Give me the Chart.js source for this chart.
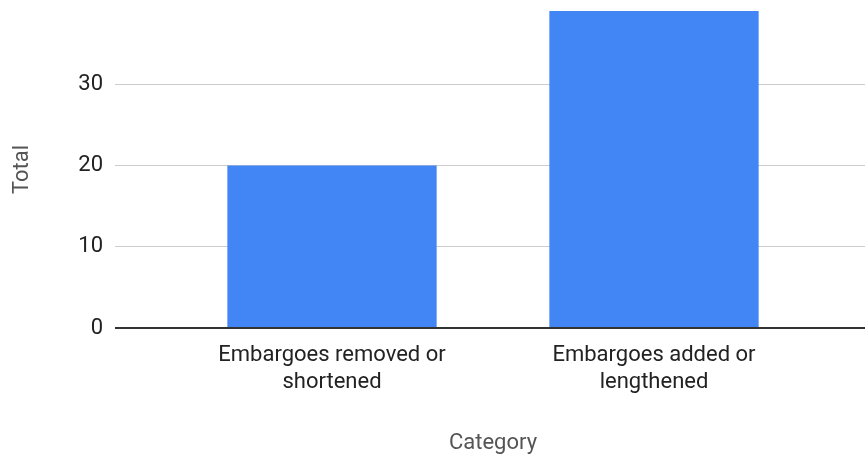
<!DOCTYPE html>
<html>
<head>
<meta charset="utf-8">
<script src="https://cdn.jsdelivr.net/npm/chart.js@4.4.1/dist/chart.umd.min.js"></script>
<style>
  html, body { margin: 0; padding: 0; background: #fff; }
  #wrap { width: 865px; height: 458px; }
</style>
</head>
<body>
<div id="wrap"><canvas id="chart"></canvas></div>
<script>
const categories = [
  ["Embargoes removed or", "shortened"],
  ["Embargoes added or", "lengthened"],
];
const totals = [20, 39];
const yTicks = [0, 10, 20, 30];
const yMax = 39;

const FONT = "Roboto, 'Noto Sans', Arial, sans-serif";
const gridColor = (ctx) => (ctx.tick && ctx.tick.value === 0 ? "#333333" : "#cccccc");
const gridWidth = (ctx) => (ctx.tick && ctx.tick.value === 0 ? 2 : 1);

// keep tick positions fixed and drop the automatic edge padding
function fixTicks(scale) {
  scale.ticks = yTicks.map((v) => ({ value: v }));
}
function noEdgePadding(scale) {
  scale.paddingTop = 0;
  scale.paddingBottom = 0;
  scale.paddingLeft = 0;
  scale.paddingRight = 0;
}

new Chart(document.getElementById("chart"), {
  type: "bar",
  data: {
    labels: categories,
    datasets: [
      {
        label: "Total",
        data: totals,
        backgroundColor: "#4285f4",
        borderWidth: 0,
        barPercentage: 0.65,
        categoryPercentage: 1,
      },
    ],
  },
  options: {
    responsive: true,
    maintainAspectRatio: false,
    animation: false,
    layout: { padding: { top: 11, left: 0, right: 0, bottom: 0 } },
    plugins: {
      legend: { display: false },
      tooltip: { enabled: false },
    },
    scales: {
      x: {
        grid: { display: false, drawTicks: false },
        border: { display: false },
        ticks: {
          color: "#222222",
          padding: 14,
          maxRotation: 0,
          font: { family: FONT, size: 22, lineHeight: 1.23 },
        },
        title: {
          display: true,
          text: "Category",
          color: "#555555",
          font: { family: FONT, size: 22 },
          padding: { top: 0, bottom: 1 },
        },
        afterFit: (scale) => {
          scale.height = 130;
          noEdgePadding(scale);
        },
      },
      y: {
        min: 0,
        max: yMax,
        afterBuildTicks: fixTicks,
        grid: {
          color: gridColor,
          tickColor: gridColor,
          lineWidth: gridWidth,
          drawTicks: true,
          tickLength: 56,
        },
        border: { display: false },
        ticks: {
          color: "#222222",
          padding: 12,
          font: { family: FONT, size: 22 },
        },
        title: {
          display: true,
          text: "Total",
          color: "#555555",
          font: { family: FONT, size: 22 },
          padding: { top: 9, bottom: 0 },
        },
        afterFit: (scale) => {
          scale.width = 171;
          noEdgePadding(scale);
        },
      },
      yRight: {
        position: "right",
        min: 0,
        max: yMax,
        afterBuildTicks: fixTicks,
        grid: {
          color: gridColor,
          tickColor: gridColor,
          lineWidth: gridWidth,
          drawOnChartArea: false,
          drawTicks: true,
          tickLength: 50,
        },
        border: { display: false },
        ticks: { display: false },
        afterFit: (scale) => {
          scale.width = 50;
          noEdgePadding(scale);
        },
      },
    },
  },
});
</script>
</body>
</html>
